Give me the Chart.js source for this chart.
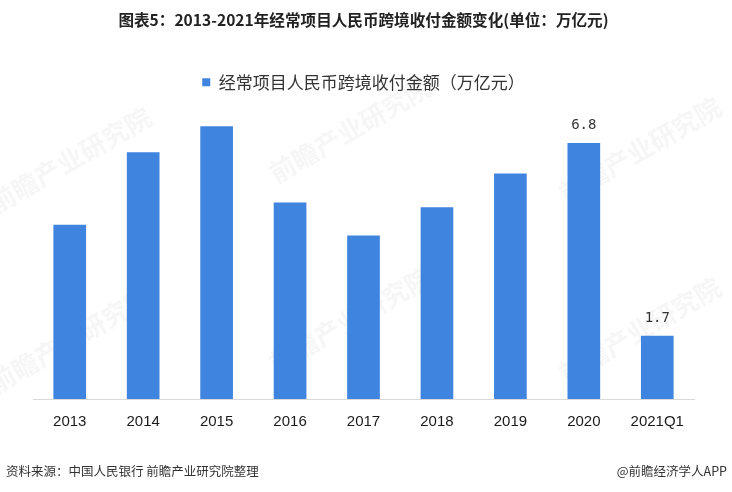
<!DOCTYPE html>
<html>
<head>
<meta charset="utf-8">
<script src="https://cdn.jsdelivr.net/npm/chart.js@4.4.1/dist/chart.umd.min.js"></script>
<style>
  html, body { margin: 0; padding: 0; background: #fff; }
  #wrap { position: relative; width: 732px; height: 492px; overflow: hidden; }
  #wrap canvas { position: absolute; left: 0; top: 0; }
  .foot { position: absolute; top: 461px; font-family: "Noto Sans CJK SC", sans-serif; font-size: 12.5px; color: #333; white-space: nowrap; }
  #src { left: 6px; }
  #brand { right: 5px; }
</style>
</head>
<body>
<div id="wrap">
  <canvas id="chart" width="732" height="492"></canvas>
  <div class="foot" id="src">资料来源：中国人民银行 前瞻产业研究院整理</div>
  <div class="foot" id="brand">@前瞻经济学人APP</div>
</div>
<script>
// 数据
const categories = ['2013', '2014', '2015', '2016', '2017', '2018', '2019', '2020', '2021Q1'];
const amounts = [4.63, 6.55, 7.24, 5.22, 4.34, 5.09, 5.99, 6.80, 1.68];
const valueLabels = ['', '', '', '', '', '', '', '6.8', '1.7'];
const seriesName = '经常项目人民币跨境收付金额（万亿元）';
const titleText = '图表5：2013-2021年经常项目人民币跨境收付金额变化(单位：万亿元)';
const watermark = '前瞻产业研究院';

// 柱顶数值
const barLabels = {
    id: 'barLabels',
    afterDatasetsDraw(chart) {
        const ctx = chart.ctx;
        const meta = chart.getDatasetMeta(0);
        ctx.save();
        ctx.font = '14px "DejaVu Sans Mono", monospace';
        ctx.fillStyle = '#333';
        ctx.textAlign = 'center';
        ctx.textBaseline = 'alphabetic';
        meta.data.forEach((bar, i) => {
            if (valueLabels[i]) ctx.fillText(valueLabels[i], bar.x, bar.y - 14);
        });
        ctx.restore();
    }
};

// 水印
const watermarkPlugin = {
    id: 'watermark',
    beforeDraw(chart) {
        const ctx = chart.ctx;
        ctx.save();
        ctx.font = 'bold 26px "Noto Sans CJK SC", sans-serif';
        ctx.fillStyle = 'rgba(170,170,170,0.1)';
        [[70, 160], [350, 130], [640, 150], [70, 340], [350, 320], [640, 330]].forEach(([x, y]) => {
            ctx.save();
            ctx.translate(x, y);
            ctx.rotate(-Math.PI / 6);
            ctx.textAlign = 'center';
            ctx.fillText(watermark, 0, 0);
            ctx.restore();
        });
        ctx.restore();
    }
};

new Chart(document.getElementById('chart').getContext('2d'), {
    type: 'bar',
    data: {
        labels: categories,
        datasets: [{
            label: seriesName,
            data: amounts,
            backgroundColor: '#3f84de',
            categoryPercentage: 1,
            barPercentage: 0.445
        }]
    },
    options: {
        responsive: false,
        animation: false,
        layout: { padding: { left: 33, right: 38, top: 0, bottom: 55 } },
        plugins: {
            title: {
                display: true,
                text: titleText,
                color: '#222',
                font: { family: '"Noto Sans CJK SC", sans-serif', size: 15.6, weight: 'bold' },
                padding: { top: 11, bottom: 36 }
            },
            legend: {
                display: true,
                labels: {
                    color: '#333',
                    font: { family: '"Noto Sans CJK SC", sans-serif', size: 17 },
                    boxWidth: 8,
                    boxHeight: 8,
                    padding: 8
                }
            },
            tooltip: { enabled: false }
        },
        scales: {
            x: {
                grid: { display: false },
                border: { display: true, color: '#d9d9d9', width: 1 },
                ticks: {
                    color: '#1a1a1a',
                    font: { family: '"Liberation Sans", Arial, sans-serif', size: 15 },
                    padding: 6,
                    maxRotation: 0
                }
            },
            y: {
                display: false,
                min: 0,
                max: 7.92
            }
        }
    },
    plugins: [barLabels, watermarkPlugin]
});
</script>
</body>
</html>
